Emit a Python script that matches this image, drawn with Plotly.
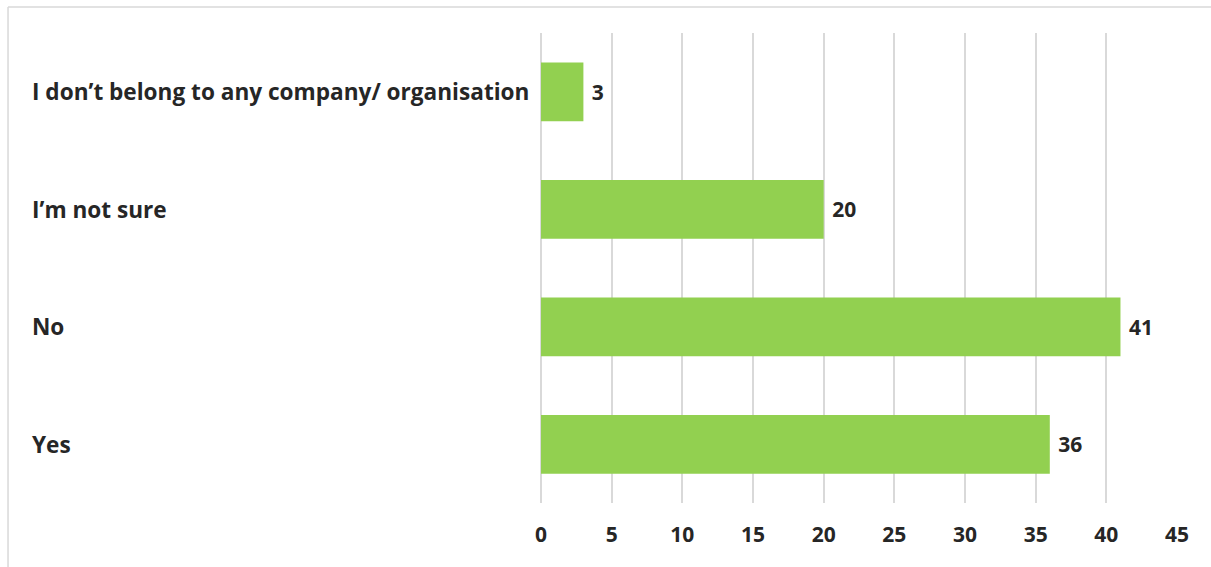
import plotly.graph_objects as go

# Survey answers (bottom to top) and counts
categories = ["Yes", "No", "I’m not sure", "I don’t belong to any company/ organisation"]
counts = [36, 41, 20, 3]
x_ticks = [0, 5, 10, 15, 20, 25, 30, 35, 40, 45]

FONT = "Open Sans"
TEXT = "#262626"
GRID = "#d9d9d9"
BAR = "#92d050"

fig = go.Figure(
    go.Bar(
        x=counts,
        y=categories,
        orientation="h",
        marker=dict(color=BAR, line=dict(width=0)),
        text=[f" {v}" for v in counts],
        textposition="outside",
        cliponaxis=False,
        textfont=dict(family=FONT, size=21, color=TEXT, weight="bold"),
        hoverinfo="skip",
    )
)

# Left-aligned category labels
for cat in categories:
    fig.add_annotation(
        x=-0.8035, xref="paper", xanchor="left",
        y=cat, yref="y", yanchor="middle",
        text=cat, showarrow=False,
        font=dict(family=FONT, size=22.6, color=TEXT, weight="bold"),
    )

# Chart-area border (left and top edges)
fig.add_shape(type="line", xref="paper", yref="paper",
              x0=-0.838, x1=1.1, y0=1.0553, y1=1.0553,
              line=dict(color=GRID, width=1.5))
fig.add_shape(type="line", xref="paper", yref="paper",
              x0=-0.838, x1=-0.838, y0=-0.2, y1=1.0553,
              line=dict(color=GRID, width=1.5))

fig.update_layout(
    width=1211, height=567,
    margin=dict(l=541, r=34, t=33, b=64),
    paper_bgcolor="white", plot_bgcolor="white",
    bargap=0.5,
    showlegend=False,
    xaxis=dict(
        range=[0, 45], tickvals=x_ticks, ticktext=[str(t) for t in x_ticks],
        showgrid=True, gridcolor=GRID, gridwidth=1.5,
        zeroline=True, zerolinecolor=GRID, zerolinewidth=1.5,
        showline=False, ticks="", ticklabelstandoff=17,
        tickfont=dict(family=FONT, size=21, color=TEXT, weight="bold"),
        fixedrange=True,
    ),
    yaxis=dict(
        categoryorder="array", categoryarray=categories,
        showticklabels=False, showgrid=False, zeroline=False, showline=False,
        fixedrange=True,
    ),
)

fig.write_html("out.html")
